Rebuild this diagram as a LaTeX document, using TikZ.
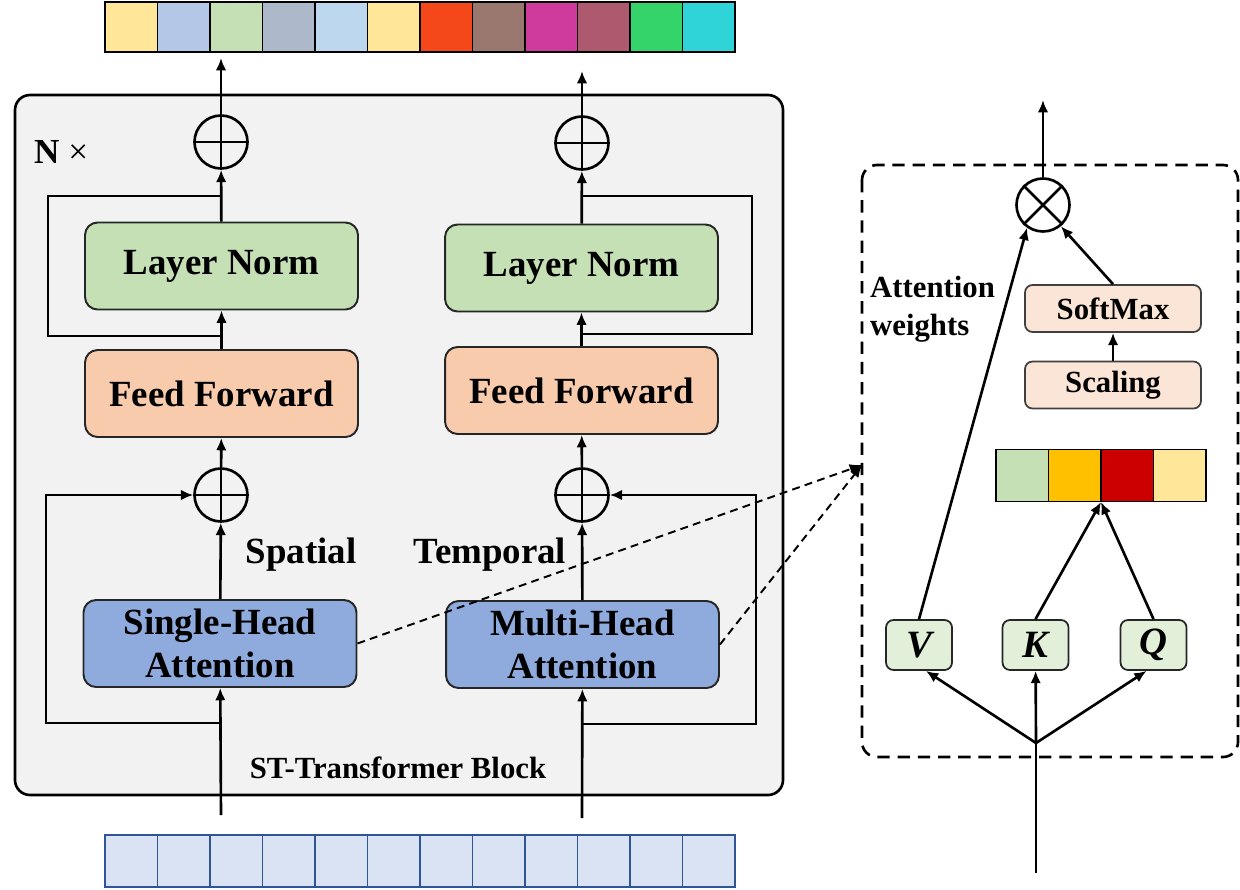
\documentclass[tikz,border=0pt]{standalone}
\usepackage{fontspec}
\setmainfont{Liberation Serif}
\usetikzlibrary{arrows.meta}
\definecolor{blockgray}{HTML}{F2F2F2}
\definecolor{normgreen}{HTML}{C5E0B4}
\definecolor{ffpeach}{HTML}{F8CBAD}
\definecolor{attblue}{HTML}{8FAADC}
\definecolor{smpeach}{HTML}{FBE5D6}
\definecolor{qkvgreen}{HTML}{E2F0D9}
\definecolor{infill}{HTML}{DAE3F3}
\definecolor{inedge}{HTML}{2F5597}
\definecolor{tok1}{HTML}{FFE699}
\definecolor{tok2}{HTML}{B4C7E7}
\definecolor{tok3}{HTML}{C5E0B4}
\definecolor{tok4}{HTML}{ADB9CA}
\definecolor{tok5}{HTML}{BDD7EE}
\definecolor{tok6}{HTML}{FFE699}
\definecolor{tok7}{HTML}{F4481A}
\definecolor{tok8}{HTML}{9A7870}
\definecolor{tok9}{HTML}{CF3A9D}
\definecolor{tok10}{HTML}{AE5A6E}
\definecolor{tok11}{HTML}{34D46A}
\definecolor{tok12}{HTML}{2ED4D8}
\definecolor{wgt1}{HTML}{C5E0B4}
\definecolor{wgt2}{HTML}{FFC000}
\definecolor{wgt3}{HTML}{CC0000}
\definecolor{wgt4}{HTML}{FFE699}
\tikzset{
  >={Latex[length=7pt,width=6pt]},
  conn/.style={line width=1.5pt},
  bigbox/.style={draw=black!85, line width=1.1pt, rounded corners=0.25cm,
    minimum width=5.46cm, minimum height=1.74cm, align=center,
    font=\fontsize{21}{24.5}\selectfont\bfseries},
  smallbox/.style={draw=black!75, line width=1pt, rounded corners=0.15cm, fill=smpeach,
    minimum width=3.52cm, minimum height=0.94cm, font=\fontsize{17.5}{20}\selectfont\bfseries},
  qkvbox/.style={draw=black!85, line width=1pt, rounded corners=0.15cm, fill=qkvgreen,
    minimum width=1.32cm, minimum height=1cm, font=\fontsize{22}{24}\selectfont\bfseries\itshape},
  addop/.style={circle, draw, line width=1.5pt, minimum size=1.06cm, inner sep=0pt},
  tokcell/.style={draw, line width=1pt, minimum width=1.05cm, minimum height=1cm, inner sep=0pt},
  incell/.style={draw=inedge, line width=0.8pt, fill=infill, minimum width=1.05cm, minimum height=1.04cm, inner sep=0pt},
  label/.style={font=\fontsize{21}{24}\selectfont\bfseries},
}

\begin{document}
\begin{tikzpicture}[x=0.02cm,y=-0.02cm]
  \useasboundingbox (0,0) rectangle (1240,889);
  % ST-Transformer block
  \draw[line width=1.5pt, fill=blockgray, rounded corners=0.3cm] (15,95) rectangle (783,795);
  \node[anchor=west, font=\fontsize{20}{22}\selectfont] (ntimes) at (28,152) {\textbf{N} ×};
  \node[font=\fontsize{17.5}{20}\selectfont\bfseries] (block) at (398,768) {ST-Transformer Block};

  % output tokens
  \foreach \i in {1,...,12}
    \node[tokcell, fill=tok\i] (out-\i) at ({105+52.5*(\i-0.5)},27) {};
  % input tokens
  \foreach \i in {1,...,12}
    \node[incell] (in-\i) at ({105+52.5*(\i-0.5)},861) {};

  % spatial branch
  \node[addop] (add-l2) at (221,142) {};
  \node[bigbox, fill=normgreen] (ln-l) at (221.5,266) {Layer Norm};
  \node[bigbox, fill=ffpeach] (ff-l) at (221.5,393.5) {Feed Forward};
  \node[addop] (add-l1) at (221,495) {};
  \node[bigbox, fill=attblue] (att-l) at (220,643.5) {Single-Head\\Attention};
  \node[label] (spatial) at (301,555) {Spatial};

  % temporal branch
  \node[addop] (add-r2) at (582,143) {};
  \node[bigbox, fill=normgreen] (ln-r) at (581.5,268) {Layer Norm};
  \node[bigbox, fill=ffpeach] (ff-r) at (581.5,390.5) {Feed Forward};
  \node[addop] (add-r1) at (582,495) {};
  \node[bigbox, fill=attblue] (att-r) at (582.5,644.5) {Multi-Head\\Attention};
  \node[label] (temporal) at (490,555) {Temporal};

  \foreach \n in {add-l1,add-l2,add-r1,add-r2}
    \draw[conn] (\n.north) -- (\n.south) (\n.west) -- (\n.east);

  \coordinate (src-l) at (221,815);
  \coordinate (src-r) at (582,818);
  \coordinate (dst-l) at (221,58);
  \coordinate (dst-r) at (582,71);

  \draw[conn,->] (src-l) -- (att-l);
  \draw[conn,->] (att-l) -- (add-l1);
  \draw[conn,->] (add-l1) -- (ff-l);
  \draw[conn,->] (ff-l) -- (ln-l);
  \draw[conn,->] (ln-l) -- (add-l2);
  \draw[conn,->] (add-l2) -- (dst-l);
  \draw[conn,->] (221,723) -| (46,495) -- (add-l1);
  \draw[conn] (221,336) -| (48,196) -- (221,196);

  \draw[conn,->] (src-r) -- (att-r);
  \draw[conn,->] (att-r) -- (add-r1);
  \draw[conn,->] (add-r1) -- (ff-r);
  \draw[conn,->] (ff-r) -- (ln-r);
  \draw[conn,->] (ln-r) -- (add-r2);
  \draw[conn,->] (add-r2) -- (dst-r);
  \draw[conn,->] (582,724) -| (756,495) -- (add-r1);
  \draw[conn] (582,334) -| (752,196) -- (582,196);

  % attention detail
  \draw[line width=1.5pt, dash pattern=on 7pt off 4.5pt, rounded corners=0.3cm] (862,165) rectangle (1238,757);
  \coordinate (zoom) at (862,465);
  \draw[line width=1.1pt, dash pattern=on 4.5pt off 3pt, ->] (att-l.east) -- (zoom);
  \draw[line width=1.1pt, dash pattern=on 4.5pt off 3pt, ->] (att-r.east) -- (zoom);

  \node[addop] (mul) at (1043,205) {};
  \draw[conn] (mul.45) -- (mul.225) (mul.135) -- (mul.-45);
  \node[smallbox] (softmax) at (1113,308.5) {SoftMax};
  \node[smallbox] (scaling) at (1113,385) {Scaling};
  \node[anchor=west, align=left, font=\fontsize{17.5}{21.5}\selectfont\bfseries] (weights) at (864,309) {Attention\\weights};
  \foreach \i in {1,...,4}
    \node[tokcell, fill=wgt\i, minimum height=1.04cm] (wgt-\i) at ({996+52.5*(\i-0.5)},475.5) {};
  \node[qkvbox] (v) at (919,645) {V};
  \node[qkvbox] (k) at (1035.5,645) {K};
  \node[qkvbox] (q) at (1153.5,645) {Q};

  \coordinate (fork) at (1036,743);
  \coordinate (src-a) at (1036,873);
  \coordinate (dst-a) at (1043,100);
  \coordinate (bar-in) at (1101,502);

  \draw[conn] (src-a) -- (fork);
  \draw[conn,->] (fork) -- (v.-75);
  \draw[conn,->] (fork) -- (k);
  \draw[conn,->] (fork) -- (q.-105);
  \draw[conn,->] (k.north) -- (bar-in);
  \draw[conn,->] (q.north) -- (bar-in);
  \draw[conn,->] (v.north) -- (mul.235);
  \draw[conn,->] (scaling) -- (softmax);
  \draw[conn,->] (softmax.north) -- (mul.-50);
  \draw[conn,->] (mul) -- (dst-a);
\end{tikzpicture}
\end{document}
